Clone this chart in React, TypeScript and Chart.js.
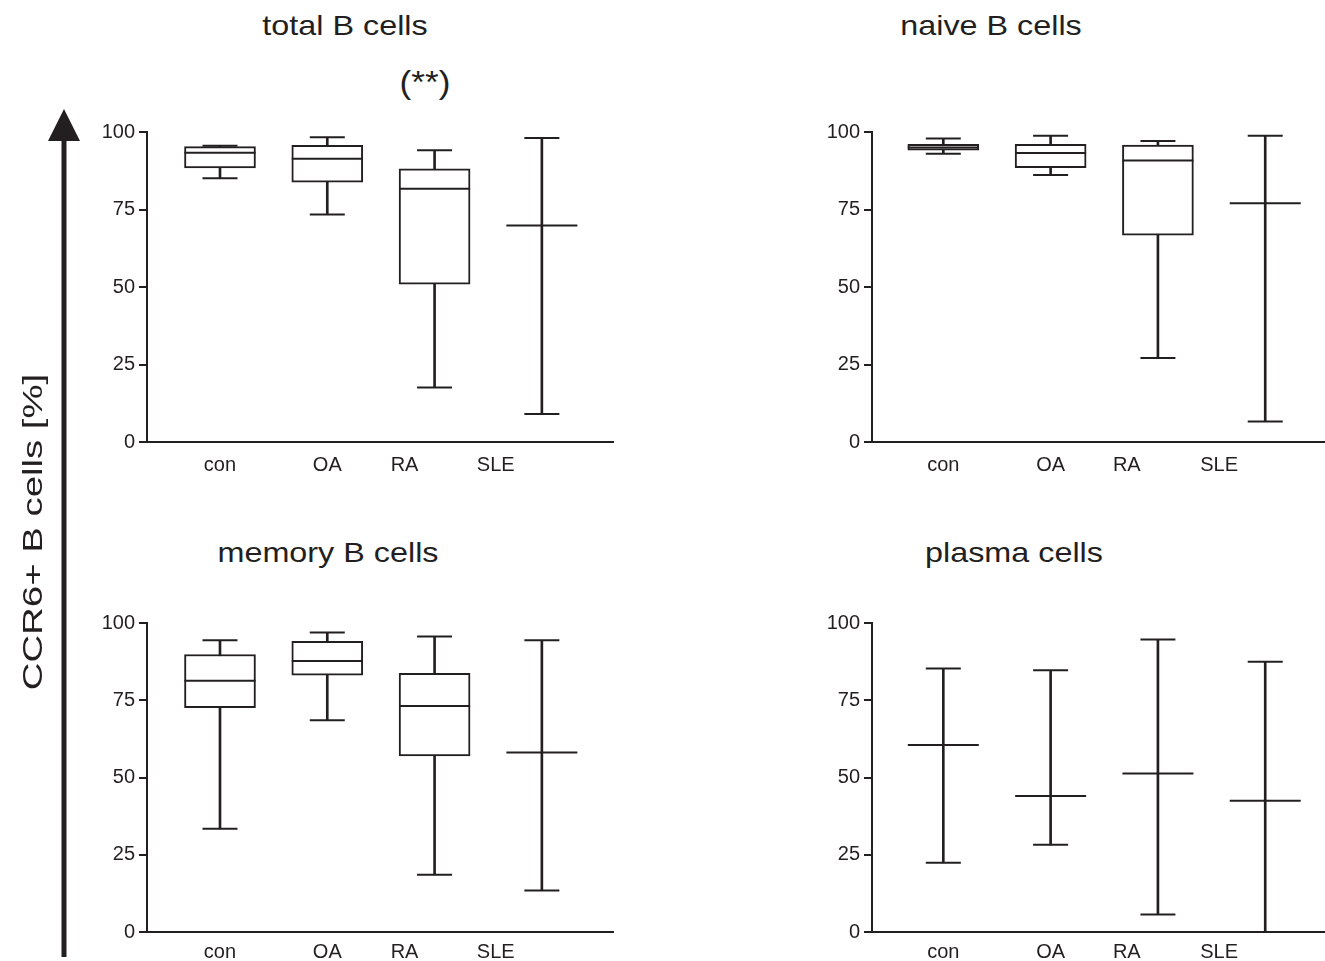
import React, { useEffect, useRef } from 'react';
import { Chart, registerables } from 'chart.js';

Chart.register(...registerables);

// ---------- data ----------
const groups = ['con', 'OA', 'RA', 'SLE'];
const yTicks = [0, 25, 50, 75, 100];

// total B cells
const totalMin = [85.1, 73.4, 17.6, 9.0];
const totalQ1 = [88.4, 83.8, 50.9, null];
const totalMedian = [93.3, 91.4, 81.7, 69.8];
const totalQ3 = [95.3, 95.7, 88.1, null];
const totalMax = [95.6, 98.3, 94.1, 98.1];

// naive B cells
const naiveMin = [93.0, 86.1, 27.1, 6.6];
const naiveQ1 = [94.1, 88.5, 66.7, null];
const naiveMedian = [95.0, 93.2, 90.8, 77.0];
const naiveQ3 = [96.0, 96.0, 95.8, null];
const naiveMax = [97.9, 98.8, 97.1, 98.8];

// memory B cells
const memoryMin = [33.4, 68.5, 18.5, 13.4];
const memoryQ1 = [72.6, 83.1, 57.0, null];
const memoryMedian = [81.3, 87.7, 73.1, 58.1];
const memoryQ3 = [89.8, 94.1, 83.7, null];
const memoryMax = [94.4, 96.9, 95.6, 94.4];

// plasma cells
const plasmaMin = [22.4, 28.2, 5.7, 0];
const plasmaQ1 = [null, null, null, null];
const plasmaMedian = [60.5, 44.0, 51.3, 42.5];
const plasmaQ3 = [null, null, null, null];
const plasmaMax = [85.3, 84.7, 94.7, 87.5];

const panelTitles = ['total B cells', 'naive B cells', 'memory B cells', 'plasma cells'];
const significance = '(**)';
const yAxisTitle = 'CCR6+ B cells [%]';

// ---------- style / layout ----------
const INK = '#231f20';
const FONT = '"Liberation Sans", Arial, Helvetica, sans-serif';

const leftLabelAt = [1, 2, 2.72, 3.57];
const rightLabelAt = [1, 2, 2.71, 3.57];

const layouts = [
  { left: 80, top: 110, width: 560, height: 380, yAxisWidth: 67, padTop: 22, padRight: 27, xAxisHeight: 48, xMin: 0.3197, xMax: 4.663, labelAt: leftLabelAt, labelPad: 11 },
  { left: 800, top: 110, width: 525, height: 380, yAxisWidth: 72, padTop: 22, padRight: 0, xAxisHeight: 48, xMin: 0.3355, xMax: 4.557, labelAt: rightLabelAt, labelPad: 11 },
  { left: 80, top: 600, width: 560, height: 361, yAxisWidth: 67, padTop: 23, padRight: 27, xAxisHeight: 29, xMin: 0.3197, xMax: 4.663, labelAt: leftLabelAt, labelPad: 8 },
  { left: 800, top: 600, width: 525, height: 361, yAxisWidth: 72, padTop: 23, padRight: 0, xAxisHeight: 29, xMin: 0.3355, xMax: 4.557, labelAt: rightLabelAt, labelPad: 8 },
];

const panelStats = [
  { min: totalMin, q1: totalQ1, median: totalMedian, q3: totalQ3, max: totalMax },
  { min: naiveMin, q1: naiveQ1, median: naiveMedian, q3: naiveQ3, max: naiveMax },
  { min: memoryMin, q1: memoryQ1, median: memoryMedian, q3: memoryQ3, max: memoryMax },
  { min: plasmaMin, q1: plasmaQ1, median: plasmaMedian, q3: plasmaQ3, max: plasmaMax },
];

function BoxPanel({ stats, layout }: any) {
  const ref = useRef<HTMLCanvasElement>(null);
  useEffect(() => {
    const xs = groups.map((_, i) => i + 1);
    const whiskers = xs.map((x, i) => ({ x, y: [stats.min[i], stats.max[i]] }));
    const boxes = xs
      .map((x, i) => (stats.q1[i] == null ? null : { x, y: [stats.q1[i], stats.q3[i]] }))
      .filter(Boolean);
    const caps = xs.flatMap((x, i) => [
      { x, y: stats.min[i] },
      { x, y: stats.max[i] },
    ]);
    const medians = xs.map((x, i) => ({ x, y: stats.median[i] }));

    const chart = new Chart(ref.current as HTMLCanvasElement, {
      type: 'bar',
      data: {
        datasets: [
          { type: 'bar', data: whiskers, grouped: false, barThickness: 2, backgroundColor: INK, borderWidth: 0, order: 3 },
          { type: 'bar', data: boxes, grouped: false, barThickness: 71, backgroundColor: '#ffffff', borderColor: INK, borderWidth: 2, borderSkipped: false, order: 2 },
          { type: 'scatter', data: caps, pointStyle: 'line', pointRadius: 17.5, pointBorderWidth: 2, pointBorderColor: INK, clip: false, order: 1 },
          { type: 'scatter', data: medians, pointStyle: 'line', pointRadius: 35.5, pointBorderWidth: 2, pointBorderColor: INK, clip: false, order: 0 },
        ],
      } as any,
      options: {
        responsive: false,
        animation: false,
        events: [],
        layout: { autoPadding: false, padding: { top: layout.padTop, right: layout.padRight, left: 0, bottom: 0 } },
        plugins: { legend: { display: false }, tooltip: { enabled: false }, title: { display: false } },
        scales: {
          x: {
            type: 'linear',
            min: layout.xMin,
            max: layout.xMax,
            offset: false,
            grid: { display: false, drawTicks: false, offset: false },
            border: { display: true, color: INK, width: 2 },
            ticks: {
              font: { size: 20, family: FONT },
              color: INK,
              padding: layout.labelPad,
              maxRotation: 0,
              autoSkip: false,
              callback: (_v: any, i: number) => groups[i],
            },
            afterBuildTicks: (axis: any) => {
              axis.ticks = layout.labelAt.map((v: number) => ({ value: v }));
            },
            afterFit: (axis: any) => {
              axis.height = layout.xAxisHeight;
            },
          },
          y: {
            min: 0,
            max: 100,
            grid: { display: true, drawOnChartArea: false, drawTicks: true, tickLength: 8, color: INK, lineWidth: 2 },
            border: { display: true, color: INK, width: 2 },
            ticks: { font: { size: 20, family: FONT }, color: INK, padding: 4 },
            afterBuildTicks: (axis: any) => {
              axis.ticks = yTicks.map((v) => ({ value: v }));
            },
            afterFit: (axis: any) => {
              axis.width = layout.yAxisWidth;
            },
          },
        },
      } as any,
    });
    return () => chart.destroy();
  }, []);
  return (
    <canvas
      ref={ref}
      width={layout.width}
      height={layout.height}
      style={{ position: 'absolute', left: layout.left, top: layout.top, width: layout.width, height: layout.height }}
    />
  );
}

const titlePos = [
  { cx: 345, top: 12.3 },
  { cx: 991, top: 12.3 },
  { cx: 328, top: 539 },
  { cx: 1013.5, top: 539.3 },
];

export default function App() {
  return (
    <div
      style={{
        position: 'absolute',
        left: 0,
        top: 0,
        width: 1325,
        height: 961,
        background: '#ffffff',
        overflow: 'hidden',
        fontFamily: FONT,
        color: INK,
      }}
    >
      {panelStats.map((s, i) => (
        <BoxPanel key={i} stats={s} layout={layouts[i]} />
      ))}
      {panelTitles.map((t, i) => (
        <div
          key={t}
          style={{
            position: 'absolute',
            left: titlePos[i].cx,
            top: titlePos[i].top,
            fontSize: 28,
            lineHeight: '28px',
            whiteSpace: 'nowrap',
            transform: 'translateX(-50%) scaleX(1.155)',
          }}
        >
          {t}
        </div>
      ))}
      <div
        style={{
          position: 'absolute',
          left: 424.5,
          top: 66,
          fontSize: 32,
          lineHeight: '32px',
          whiteSpace: 'nowrap',
          transform: 'translateX(-50%) scaleX(1.1)',
        }}
      >
        {significance}
      </div>
      <svg width={100} height={961} style={{ position: 'absolute', left: 0, top: 0 }}>
        <line x1={64} y1={138} x2={64} y2={957} stroke={INK} strokeWidth={5} />
        <polygon points="64,109 48,141 80,141" fill={INK} />
      </svg>
      <div
        style={{
          position: 'absolute',
          left: 33,
          top: 532,
          fontSize: 28,
          lineHeight: '28px',
          whiteSpace: 'nowrap',
          transform: 'translate(-50%, -50%) rotate(-90deg) scaleX(1.37)',
        }}
      >
        {yAxisTitle}
      </div>
    </div>
  );
}
